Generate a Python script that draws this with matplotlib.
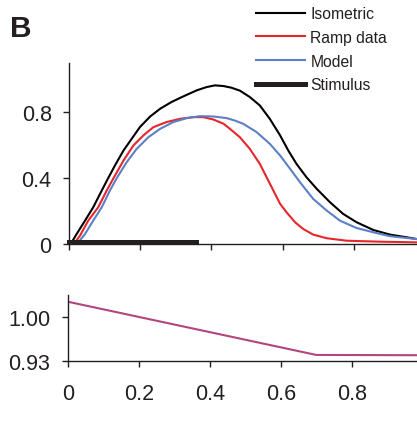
import matplotlib
matplotlib.use("Agg")
import matplotlib.pyplot as plt

plt.rcParams['font.family'] = ['Liberation Sans', 'DejaVu Sans']

# Top panel data
iso_x = [0.0075, 0.0215, 0.045, 0.068, 0.092, 0.110, 0.129, 0.153, 0.176, 0.199, 0.228, 0.256,
         0.288, 0.321, 0.359, 0.387, 0.410, 0.434, 0.456, 0.480, 0.508, 0.536, 0.564, 0.593,
         0.616, 0.639, 0.667, 0.696, 0.733, 0.770, 0.808, 0.855, 0.902, 0.948, 0.977, 1.0]
iso_y = [0.010, 0.061, 0.142, 0.223, 0.325, 0.400, 0.477, 0.568, 0.639, 0.710, 0.775, 0.822,
         0.863, 0.897, 0.934, 0.954, 0.964, 0.960, 0.950, 0.932, 0.893, 0.842, 0.761, 0.660,
         0.568, 0.487, 0.406, 0.335, 0.254, 0.183, 0.132, 0.085, 0.057, 0.041, 0.030, 0.026]

ramp_x = [0.017, 0.031, 0.054, 0.082, 0.106, 0.125, 0.153, 0.181, 0.209, 0.237, 0.274, 0.312,
          0.349, 0.377, 0.405, 0.434, 0.452, 0.480, 0.508, 0.536, 0.555, 0.574, 0.593, 0.611,
          0.635, 0.658, 0.686, 0.724, 0.780, 0.874, 0.977, 1.0]
ramp_y = [0.010, 0.051, 0.142, 0.223, 0.325, 0.400, 0.507, 0.599, 0.660, 0.710, 0.741, 0.761,
          0.771, 0.771, 0.757, 0.731, 0.700, 0.649, 0.578, 0.487, 0.406, 0.325, 0.244, 0.193,
          0.132, 0.091, 0.057, 0.035, 0.020, 0.014, 0.010, 0.010]

model_x = [0.026, 0.045, 0.068, 0.092, 0.115, 0.134, 0.162, 0.190, 0.223, 0.256, 0.293, 0.331,
           0.368, 0.406, 0.443, 0.466, 0.489, 0.527, 0.564, 0.593, 0.621, 0.649, 0.686, 0.724,
           0.761, 0.808, 0.855, 0.902, 0.977, 1.0]
model_y = [0.010, 0.061, 0.142, 0.223, 0.325, 0.400, 0.497, 0.578, 0.649, 0.700, 0.741, 0.765,
           0.777, 0.775, 0.765, 0.750, 0.731, 0.680, 0.609, 0.538, 0.457, 0.375, 0.274, 0.203,
           0.142, 0.097, 0.071, 0.047, 0.030, 0.026]

stim_x = [0.0, 0.358]
stim_y = [0.015, 0.015]

# Bottom panel data
scale_x = [0.0, 0.7, 1.0]
scale_y = [1.0235, 0.940, 0.9395]

top_yticks = [0, 0.4, 0.8]
top_yticklabels = ['0', '0.4', '0.8']
xticks = [0, 0.2, 0.4, 0.6, 0.8]
xticklabels = ['0', '0.2', '0.4', '0.6', '0.8']
bot_yticks = [0.93, 1.00]
bot_yticklabels = ['0.93', '1.00']

TXT = '#231f20'
RED = '#e5262b'
BLUE = '#5b80c6'
MAG = '#b2457e'

fig = plt.figure(figsize=(4.17, 4.27), dpi=100)

ax1 = fig.add_axes([69/417, (427-245)/427, 356/417, (245-64)/427])
l_iso, = ax1.plot(iso_x, iso_y, color='black', lw=1.5, label='Isometric')
l_ramp, = ax1.plot(ramp_x, ramp_y, color=RED, lw=1.5, label='Ramp data')
l_mod, = ax1.plot(model_x, model_y, color=BLUE, lw=1.5, label='Model')
l_stim, = ax1.plot(stim_x, stim_y, color=TXT, lw=3.6, solid_capstyle='projecting',
                   clip_on=False, label='Stimulus', zorder=5)
ax1.set_xlim(0, 1)
ax1.set_ylim(0, 1.10)
ax1.set_yticks(top_yticks)
ax1.set_yticklabels(top_yticklabels)
ax1.set_xticks(xticks)
ax1.set_xticklabels([])

ax2 = fig.add_axes([67.7/417, (427-362.3)/427, 355/417, (362.3-296)/427])
ax2.plot(scale_x, scale_y, color=MAG, lw=1.5)
ax2.set_xlim(0, 1)
ax2.set_ylim(0.93, 1.034)
ax2.set_yticks(bot_yticks)
ax2.set_yticklabels(bot_yticklabels)
ax2.set_xticks(xticks)
ax2.set_xticklabels(xticklabels)

for ax in (ax1, ax2):
    for s in ('top', 'right'):
        ax.spines[s].set_visible(False)
    for s in ('left', 'bottom'):
        ax.spines[s].set_linewidth(1.0)
        ax.spines[s].set_color(TXT)
    ax.tick_params(direction='out', length=4.5, width=1.0, color=TXT,
                   labelsize=15.5, labelcolor=TXT, pad=8)
ax2.tick_params(axis='x', pad=11)

fig.legend(handles=[l_iso, l_ramp, l_mod, l_stim], loc='upper left',
           bbox_to_anchor=(250/417, 1 - 1/427), frameon=False, fontsize=11.3,
           handlelength=3.1, handletextpad=0.35, labelspacing=0.55, borderaxespad=0,
           labelcolor=TXT)

fig.text(10/417, 1 - 37/427, 'B', fontsize=21.5, fontweight='bold', color=TXT,
         ha='left', va='baseline')

fig.savefig('out.png', dpi=100)
